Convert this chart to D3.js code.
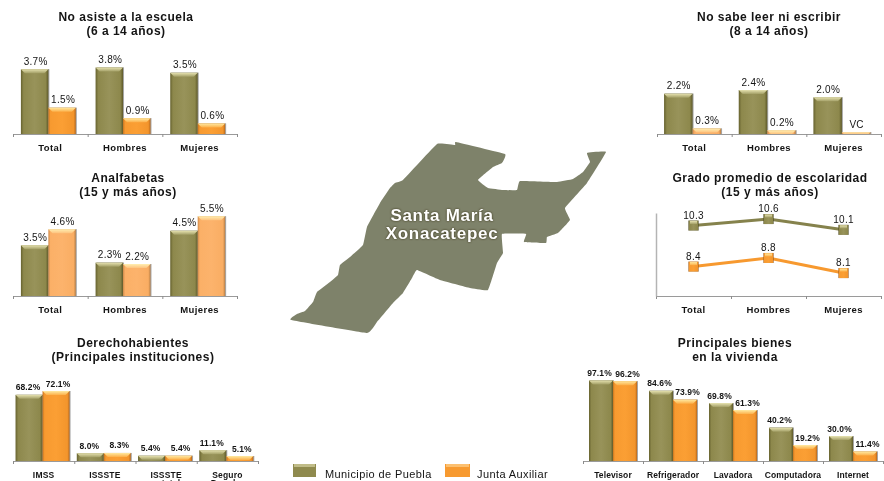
<!DOCTYPE html>
<html>
<head>
<meta charset="utf-8">
<script src="https://cdn.jsdelivr.net/npm/d3@7"></script>
<style>
  html, body { margin: 0; padding: 0; background: #fff; overflow: hidden; }
  svg { display: block; filter: blur(0.4px); }
  text { font-family: "Liberation Sans", Arial, sans-serif; fill: #141414; }
</style>
</head>
<body>
<div id="chart"></div>
<script>
var series = ["Municipio de Puebla", "Junta Auxiliar"]
var sexos = ["Total", "Hombres", "Mujeres"]

var noAsisteMunicipio = [3.7, 3.8, 3.5]
var noAsisteJunta = [1.5, 0.9, 0.6]

var noSabeMunicipio = [2.2, 2.4, 2.0]
var noSabeJunta = [0.3, 0.2, 0.1]  // last one is printed as VC
var noSabeJuntaLabels = ["0.3%", "0.2%", "VC"]

var analfabetasMunicipio = [3.5, 2.3, 4.5]
var analfabetasJunta = [4.6, 2.2, 5.5]

var escolaridadMunicipio = [10.3, 10.6, 10.1]
var escolaridadJunta = [8.4, 8.8, 8.1]

var instituciones = ["IMSS", "ISSSTE", "ISSSTE estatal", "Seguro Popular"]
var derechoMunicipio = [68.2, 8.0, 5.4, 11.1]
var derechoJunta = [72.1, 8.3, 5.4, 5.1]

var bienes = ["Televisor", "Refrigerador", "Lavadora", "Computadora", "Internet"]
var bienesMunicipio = [97.1, 84.6, 69.8, 40.2, 30.0]
var bienesJunta = [96.2, 73.9, 61.3, 19.2, 11.4]

// outline of the locality, traced in page pixels
var mapaContorno = [[437,144],[455,145],[456,142],[505,154],[502,163],[493,167],[478,180],[488,188],[503,190],[517,190],[520,181],[557,182],[573,179],[583,172],[590,162],[587,153],[606,152],[587,183],[565,208],[570,220],[558,233],[547,237],[546,243],[524,242],[526,234],[502,234],[503,253],[497,263],[488,290],[470,288],[440,280],[417,270],[412,278],[403,293],[393,303],[377,322],[367,333],[291,320],[297,314],[305,311],[313,302],[317,292],[330,282],[338,275],[340,265],[350,257],[363,245],[367,227],[380,203],[390,188],[395,183],[403,180]]

var svg = d3.select("#chart").append("svg")
  .attr("width", 884)
  .attr("height", 481)

var defs = svg.append("defs")

var addGradient = function(id, x2, y2, stops){
  var g = defs.append("linearGradient").attr("id", id)
    .attr("x1", 0).attr("y1", 0).attr("x2", x2).attr("y2", y2)
  stops.forEach(function(s){
    g.append("stop").attr("offset", s[0]).attr("stop-color", s[1])
  })
}
addGradient("olive", 1, 0, [[0,"#66622f"],[0.1,"#8d884c"],[0.5,"#98935a"],[0.9,"#8d884c"],[1,"#5e5a2a"]])
addGradient("orange", 1, 0, [[0,"#c9751f"],[0.08,"#f79a30"],[0.5,"#fb9f34"],[0.92,"#f3952c"],[1,"#b9691c"]])
addGradient("orangeLight", 1, 0, [[0,"#d08a4a"],[0.08,"#fbb067"],[0.5,"#fcb36c"],[0.92,"#f9ad63"],[1,"#b97f45"]])
addGradient("oliveTop", 0, 1, [[0,"#e6e2b0"],[1,"#a39f66"]])
addGradient("orangeTop", 0, 1, [[0,"#ffe9a0"],[1,"#fcb04a"]])
addGradient("orangeLightTop", 0, 1, [[0,"#ffeeb0"],[1,"#fdc27e"]])

var drawTitle = function(lines, cx, y){
  var t = svg.append("text")
    .attr("text-anchor", "middle")
    .style("font-size", "12px")
    .style("font-weight", "bold")
    .style("letter-spacing", "0.5px")
  lines.forEach(function(line, i){
    t.append("tspan").attr("x", cx).attr("y", y + i * 13.5).text(line)
  })
}

// axis with ticks between the categories, labels sit on a second band axis
var drawCategoryAxis = function(x, axisY, fontSize, spacing){
  var n = x.domain().length
  var r = x.range()
  var edges = d3.scaleLinear().domain([0, n]).range(r)
  var a = svg.append("g")
    .attr("transform", "translate(0," + axisY + ")")
    .call(d3.axisBottom(edges).ticks(n).tickSize(3).tickSizeOuter(3).tickFormat(""))
  a.selectAll("line").attr("stroke", "#8c8c8c")
  a.select(".domain").attr("stroke", "#9a9a9a")

  var labels = svg.append("g")
    .attr("transform", "translate(0," + axisY + ")")
    .call(d3.axisBottom(x).tickSize(0).tickPadding(10.5))
  labels.select(".domain").remove()
  labels.selectAll("text")
    .style("font-size", fontSize + "px")
    .style("font-weight", "bold")
    .style("letter-spacing", spacing + "px")
    .style("font-family", '"Liberation Sans", Arial, sans-serif')
    .style("fill", "#141414")
    .each(function(d){
      // two word categories wrap, the second line runs off the page
      var parts = d.split(" ")
      if (parts.length > 1) {
        var el = d3.select(this).text(null)
        parts.forEach(function(p, i){
          el.append("tspan").attr("x", 0).attr("dy", i == 0 ? "0.71em" : "1em").text(p)
        })
      }
    })
}

var drawBars = function(c){
  var x = d3.scaleBand().domain(c.cats).range(c.xRange)
  var inner = d3.scaleBand().domain(series).range([0, x.bandwidth()])
    .paddingInner(0).paddingOuter(c.outer).align(c.align)
  var y = d3.scaleLinear().domain(c.domain).range(c.yRange)
  var axisY = c.yRange[0]
  var w = inner.bandwidth()

  var rows = []
  c.cats.forEach(function(cat, i){
    rows.push({cat: cat, s: series[0], v: c.a[i], label: c.fmt(c.a[i]), fill: "olive", top: "oliveTop", dx: c.valDx[0]})
    rows.push({cat: cat, s: series[1], v: c.b[i], label: c.bLabels ? c.bLabels[i] : c.fmt(c.b[i]), fill: c.orange, top: c.orange + "Top", dx: c.valDx[1]})
  })

  var g = svg.append("g")
  var bars = g.selectAll("g.bar").data(rows).enter().append("g")
    .attr("class", "bar")
    .style("filter", "drop-shadow(1px 0.5px 0.7px rgba(0,0,0,0.35))")
  bars.append("rect")
    .attr("x", function(d){ return x(d.cat) + inner(d.s) })
    .attr("y", function(d){ return y(d.v) })
    .attr("width", w)
    .attr("height", function(d){ return axisY - y(d.v) })
    .attr("fill", function(d){ return "url(#" + d.fill + ")" })
  // bevel along the top edge
  bars.append("path")
    .attr("fill", function(d){ return "url(#" + d.top + ")" })
    .attr("d", function(d){
      var l = x(d.cat) + inner(d.s)
      var t = y(d.v)
      var h = Math.min(4, axisY - t)
      return d3.line()([[l, t], [l + w, t], [l + w - h, t + h], [l + h, t + h]]) + "Z"
    })

  drawCategoryAxis(x, axisY, c.tickSize, c.tickSpacing)

  g.selectAll("text.val").data(rows).enter().append("text")
    .attr("class", "val")
    .attr("text-anchor", "middle")
    .attr("x", function(d){ return x(d.cat) + inner(d.s) + w / 2 + d.dx })
    .attr("y", function(d){ return y(d.v) - 4.5 })
    .style("font-size", c.valSize + "px")
    .style("font-weight", c.valWeight)
    .style("letter-spacing", c.valSpacing + "px")
    .text(function(d){ return d.label })
  g.raise()
}

var pct = function(v){ return v.toFixed(1) + "%" }

drawTitle(["No asiste a la escuela", "(6 a 14 años)"], 126, 21)
drawBars({cats: sexos, a: noAsisteMunicipio, b: noAsisteJunta, fmt: pct, orange: "orange",
  xRange: [13, 237], yRange: [134, 64], domain: [0, 4], outer: 0.36, align: 0.4, valDx: [1, 1],
  tickSize: 9.5, tickSpacing: 0.4, valSize: 10, valWeight: "normal", valSpacing: 0.3})

drawTitle(["No sabe leer ni escribir", "(8 a 14 años)"], 769, 21)
drawBars({cats: sexos, a: noSabeMunicipio, b: noSabeJunta, bLabels: noSabeJuntaLabels, fmt: pct, orange: "orangeLight",
  xRange: [657, 881], yRange: [134, 79], domain: [0, 3], outer: 0.31, align: 0.4, valDx: [0.5, 0.5],
  tickSize: 9.5, tickSpacing: 0.4, valSize: 10, valWeight: "normal", valSpacing: 0.3})

drawTitle(["Analfabetas", "(15 y más años)"], 128, 182)
drawBars({cats: sexos, a: analfabetasMunicipio, b: analfabetasJunta, fmt: pct, orange: "orangeLight",
  xRange: [13, 237], yRange: [296, 209], domain: [0, 6], outer: 0.36, align: 0.4, valDx: [0.5, 0.5],
  tickSize: 9.5, tickSpacing: 0.4, valSize: 10, valWeight: "normal", valSpacing: 0.3})

drawTitle(["Derechohabientes", "(Principales instituciones)"], 133, 347)
drawBars({cats: instituciones, a: derechoMunicipio, b: derechoJunta, fmt: pct, orange: "orange",
  xRange: [13, 258], yRange: [461, 383.4], domain: [0, 80], outer: 0.134, align: 0.35, valDx: [-1, 2],
  tickSize: 8.5, tickSpacing: 0.2, valSize: 8.5, valWeight: "bold", valSpacing: 0.1})

drawTitle(["Principales bienes", "en la vivienda"], 735, 347)
drawBars({cats: bienes, a: bienesMunicipio, b: bienesJunta, fmt: pct, orange: "orange",
  xRange: [583, 883], yRange: [461, 378], domain: [0, 100], outer: 0.25, align: 0.5, valDx: [-1.5, 2.5],
  tickSize: 8.5, tickSpacing: 0.1, valSize: 8.5, valWeight: "bold", valSpacing: 0.1})

// line panel
drawTitle(["Grado promedio de escolaridad", "(15 y más años)"], 770, 182)
var xLine = d3.scaleBand().domain(sexos).range([656, 881])
var yLine = d3.scaleLinear().domain([7.04, 10.88]).range([296, 213])
drawCategoryAxis(xLine, 296, 9.5, 0.4)
var yAxisLine = svg.append("g")
  .attr("transform", "translate(656,0)")
  .call(d3.axisLeft(yLine).tickValues([]).tickSizeOuter(0))
yAxisLine.select(".domain").attr("stroke", "#b4b4b4").attr("stroke-width", 1.5)

var lineGen = d3.line()
  .x(function(d, i){ return xLine(sexos[i]) + xLine.bandwidth() / 2 })
  .y(function(d){ return yLine(d) })

var drawLine = function(vals, stroke, fill, topFill){
  svg.append("path").datum(vals)
    .attr("fill", "none")
    .attr("stroke", stroke)
    .attr("stroke-width", 3)
    .attr("d", lineGen)
  var pts = svg.selectAll(null).data(vals).enter().append("g")
    .style("filter", "drop-shadow(0.8px 0.8px 0.6px rgba(0,0,0,0.4))")
  pts.append("rect")
    .attr("x", function(d, i){ return xLine(sexos[i]) + xLine.bandwidth() / 2 - 5 })
    .attr("y", function(d){ return yLine(d) - 5 })
    .attr("width", 10).attr("height", 10)
    .attr("fill", fill)
  pts.append("rect")
    .attr("x", function(d, i){ return xLine(sexos[i]) + xLine.bandwidth() / 2 - 3.5 })
    .attr("y", function(d){ return yLine(d) - 4.5 })
    .attr("width", 7).attr("height", 3)
    .attr("fill", topFill)
  svg.selectAll(null).data(vals).enter().append("text")
    .attr("text-anchor", "middle")
    .attr("x", function(d, i){ return xLine(sexos[i]) + xLine.bandwidth() / 2 })
    .attr("y", function(d){ return yLine(d) - 7 })
    .style("font-size", "10px")
    .style("letter-spacing", "0.3px")
    .text(function(d){ return d.toFixed(1) })
}
drawLine(escolaridadMunicipio, "#85824c", "url(#olive)", "url(#oliveTop)")
drawLine(escolaridadJunta, "#f7992f", "url(#orange)", "url(#orangeTop)")

// map
svg.append("path").datum(mapaContorno)
  .attr("fill", "#7e826a")
  .attr("d", d3.line().curve(d3.curveCardinalClosed.tension(0.75)))

var mapaLabel = svg.append("g").style("filter", "drop-shadow(0.8px 0.8px 0.8px rgba(40,30,0,0.8))")
;["Santa María", "Xonacatepec"].forEach(function(s, i){
  mapaLabel.append("text")
    .attr("x", 442).attr("y", 221 + i * 18)
    .attr("text-anchor", "middle")
    .style("fill", "#ffffff")
    .style("font-size", "17px")
    .style("font-weight", "bold")
    .style("letter-spacing", "0.7px")
    .text(s)
})

// legend
var legendX = d3.scaleOrdinal().domain(series).range([293, 445])
var legendW = d3.scaleOrdinal().domain(series).range([23, 25])
var legendFill = d3.scaleOrdinal().domain(series).range(["#8f8a4e", "#f79a30"])
var legendTop = d3.scaleOrdinal().domain(series).range(["#c0bc88", "#fcc070"])
var leg = svg.selectAll("g.leg").data(series).enter().append("g").attr("class", "leg")
leg.append("rect")
  .attr("x", function(d){ return legendX(d) })
  .attr("y", 464).attr("width", function(d){ return legendW(d) }).attr("height", 13)
  .attr("fill", function(d){ return legendFill(d) })
  .style("filter", "drop-shadow(0.6px 0.6px 0.6px rgba(0,0,0,0.4))")
leg.append("rect")
  .attr("x", function(d){ return legendX(d) + 1 })
  .attr("y", 464).attr("width", function(d){ return legendW(d) - 2 }).attr("height", 3)
  .attr("fill", function(d){ return legendTop(d) })
leg.append("text")
  .attr("x", function(d){ return legendX(d) + legendW(d) + 9 - (d == series[1] ? 2 : 0) })
  .attr("y", 477.5)
  .style("font-size", "11px")
  .style("letter-spacing", "0.4px")
  .text(function(d){ return d })
</script>
</body>
</html>
